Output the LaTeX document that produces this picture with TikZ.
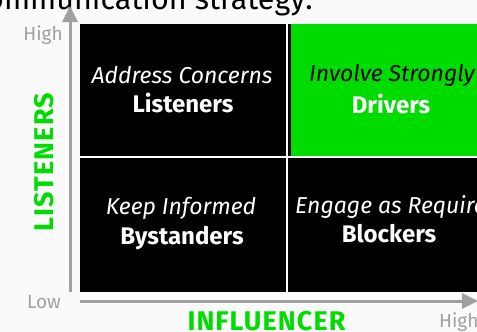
\documentclass[tikz,border=0pt]{standalone}
\usepackage{fontspec}
\setmainfont{Fira Sans}
\usetikzlibrary{arrows.meta}
\definecolor{qgreen}{RGB}{0,220,0}
\definecolor{axisgray}{RGB}{160,160,160}
\definecolor{bgc}{RGB}{250,250,250}
\begin{document}
\begin{tikzpicture}[x=1pt,y=-1pt,
  axis/.style={draw=axisgray, line width=3pt, -{Triangle[length=16pt,width=15pt]}},
  itl/.style={inner sep=0pt, anchor=center, text=white, font=\fontsize{23}{26}\selectfont\itshape},
  bld/.style={inner sep=0pt, anchor=center, text=white, font=\fontsize{24}{28}\selectfont\bfseries},
  ticklbl/.style={text=axisgray, font=\fontsize{19}{22}\selectfont, inner sep=0pt},
  axlbl/.style={text=qgreen, font=\fontsize{27}{30}\selectfont\bfseries\addfontfeature{LetterSpace=4}, inner sep=0pt},
  divider/.style={draw=white, line width=2.5pt}]
\useasboundingbox[fill=bgc] (0,0) rectangle (477,332);
% title (cropped at the top)
\node[anchor=base east, font=\fontsize{30.5}{34}\selectfont, inner sep=0pt] (title) at (313,9.5) {Communication strategy:};
% grid
\fill[black] (80,24) rectangle (500,292);
\fill[qgreen] (291,24) rectangle (500,155.5);
\coordinate (vtop) at (287,24);
\coordinate (vbot) at (287,292);
\coordinate (hl) at (80,157);
\coordinate (hr) at (500,157);
\draw[divider] (vtop) -- (vbot);
\draw[divider] (hl) -- (hr);
% cell texts
\node[itl] (a1) at (182,75) {Address Concerns};
\node[bld] (b1) at (183,103) {Listeners};
\node[itl, text=black] (a2) at (392,75) {Involve Strongly};
\node[bld] (b2) at (391,104) {Drivers};
\node[itl] (a3) at (181,208) {Keep Informed};
\node[bld] (b3) at (182,238) {Bystanders};
\node[itl, anchor=west] (a4) at (295,207) {Engage as Required};
\node[bld] (b4) at (389,234) {Blockers};
% axes
\coordinate (yo) at (70,292);
\coordinate (yt) at (70,6);
\coordinate (xo) at (80,301);
\coordinate (xt) at (478,301);
\draw[axis] (yo) -- (yt);
\draw[axis] (xo) -- (xt);
\node[ticklbl, anchor=center] (yhigh) at (43,35) {High};
\node[ticklbl, anchor=center] (xlow) at (44,302) {Low};
\node[ticklbl, anchor=west] (xhigh) at (439,322) {High};
\node[axlbl] (xlab) at (266.5,321.5) {INFLUENCER};
\node[axlbl, rotate=90] (ylab) at (44,162) {LISTENERS};
\end{tikzpicture}
\end{document}
